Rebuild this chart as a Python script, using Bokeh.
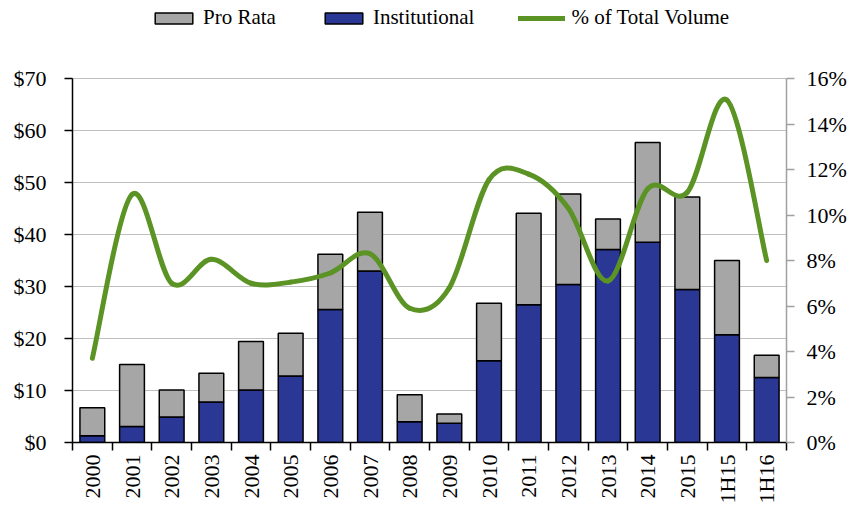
import math
from bokeh.plotting import figure
from bokeh.models import (Range1d, LinearAxis, FixedTicker, NumeralTickFormatter,
                          PrintfTickFormatter, Legend, LegendItem, ColumnDataSource)
from bokeh.embed import file_html
from bokeh.resources import INLINE

categories = ["2000", "2001", "2002", "2003", "2004", "2005", "2006", "2007", "2008",
              "2009", "2010", "2011", "2012", "2013", "2014", "2015", "1H15", "1H16"]
institutional = [1.3, 3.1, 4.9, 7.8, 10.1, 12.8, 25.6, 33.0, 4.0,
                 3.7, 15.7, 26.5, 30.4, 37.1, 38.5, 29.4, 20.7, 12.5]
pro_rata = [5.4, 11.9, 5.2, 5.5, 9.3, 8.2, 10.6, 11.3, 5.2,
            1.8, 11.1, 17.6, 17.4, 5.9, 19.2, 17.8, 14.3, 4.3]
pct_total_volume = [3.7, 10.9, 7.0, 8.05, 7.0, 7.05, 7.45, 8.3, 5.9,
                    6.8, 11.55, 11.8, 10.3, 7.1, 11.15, 11.0, 15.05, 8.0]
usd_ticks = [0, 10, 20, 30, 40, 50, 60, 70]
pct_ticks = [0, 2, 4, 6, 8, 10, 12, 14, 16]

FONT = "Liberation Serif"
NAVY = "#2A3795"
GRAY = "#A6A6A6"
GREEN = "#5B9324"

# frame extends above the $70 line to host the legend; axes are bounded to the data scale
FRAME_TOP_FACTOR = 442.0 / 364.0

xs = list(range(len(categories)))
source = ColumnDataSource(dict(x=xs, institutional=institutional, pro_rata=pro_rata))

p = figure(width=852, height=506, output_backend="svg", toolbar_location=None,
           x_range=Range1d(-0.5, len(categories) - 0.5),
           y_range=Range1d(0, usd_ticks[-1] * FRAME_TOP_FACTOR),
           min_border_left=72, min_border_right=66, min_border_top=0, min_border_bottom=64)
p.outline_line_color = None
p.background_fill_color = "white"
p.xgrid.visible = False
p.ygrid.grid_line_color = "#808080"
p.ygrid.grid_line_dash = "1 1"
p.ygrid.grid_line_width = 1

p.extra_y_ranges = {"pct": Range1d(0, pct_ticks[-1] * FRAME_TOP_FACTOR)}

bars = p.vbar_stack(["institutional", "pro_rata"], x="x", width=0.625, source=source,
                    color=[NAVY, GRAY], line_color="black", line_width=1.5)

# smoothed line (Catmull-Rom style Bezier segments through the data points)
n = len(xs)
x0, y0, x1, y1, cx0, cy0, cx1, cy1 = [], [], [], [], [], [], [], []
for i in range(n - 1):
    pm = (xs[max(i - 1, 0)], pct_total_volume[max(i - 1, 0)])
    pa = (xs[i], pct_total_volume[i])
    pb = (xs[i + 1], pct_total_volume[i + 1])
    pn = (xs[min(i + 2, n - 1)], pct_total_volume[min(i + 2, n - 1)])
    x0.append(pa[0]); y0.append(pa[1]); x1.append(pb[0]); y1.append(pb[1])
    cx0.append(pa[0] + (pb[0] - pm[0]) / 6.0); cy0.append(pa[1] + (pb[1] - pm[1]) / 6.0)
    cx1.append(pb[0] - (pn[0] - pa[0]) / 6.0); cy1.append(pb[1] - (pn[1] - pa[1]) / 6.0)
line = p.bezier(x0=x0, y0=y0, x1=x1, y1=y1, cx0=cx0, cy0=cy0, cx1=cx1, cy1=cy1,
                line_color=GREEN, line_width=5, line_cap="round", y_range_name="pct")

# x axis
xa = p.xaxis[0]
xa.ticker = FixedTicker(ticks=xs, minor_ticks=[i - 0.5 for i in range(len(categories) + 1)])
xa.major_label_overrides = {i: c for i, c in enumerate(categories)}
xa.major_label_orientation = math.pi / 2
xa.major_tick_line_color = None
xa.major_tick_out = 8
xa.major_tick_in = 0
xa.minor_tick_line_color = "black"
xa.minor_tick_line_width = 1.5
xa.minor_tick_out = 8
xa.minor_tick_in = 0
xa.axis_line_color = "black"
xa.axis_line_width = 1.5
xa.major_label_standoff = 4
xa.major_label_text_font = FONT
xa.major_label_text_font_size = "22px"
xa.major_label_text_color = "black"

# left axis
ya = p.yaxis[0]
ya.ticker = FixedTicker(ticks=usd_ticks)
ya.bounds = (usd_ticks[0], usd_ticks[-1])
ya.formatter = NumeralTickFormatter(format="$0")
ya.minor_tick_line_color = None
ya.major_tick_out = 8
ya.major_tick_in = 0
ya.major_tick_line_width = 1.5
ya.axis_line_width = 1.5
ya.major_label_standoff = 18
ya.major_label_text_font = FONT
ya.major_label_text_font_size = "22px"
ya.major_label_text_color = "black"

# right axis
ra = LinearAxis(y_range_name="pct", ticker=FixedTicker(ticks=pct_ticks),
                bounds=(pct_ticks[0], pct_ticks[-1]),
                formatter=PrintfTickFormatter(format="%d%%"))
ra.axis_line_color = "#a0a0a0"
ra.axis_line_width = 1.5
ra.major_tick_line_color = "#a0a0a0"
ra.major_tick_line_width = 1.5
ra.major_tick_out = 8
ra.major_tick_in = 0
ra.minor_tick_line_color = None
ra.major_label_standoff = 12
ra.major_label_text_font = FONT
ra.major_label_text_font_size = "22px"
ra.major_label_text_color = "black"
p.add_layout(ra, "right")

legend = Legend(items=[LegendItem(label="Pro Rata", renderers=[bars[1]]),
                       LegendItem(label="Institutional", renderers=[bars[0]]),
                       LegendItem(label="% of Total Volume", renderers=[line])],
                orientation="horizontal", location=(78, 412),
                glyph_width=47, glyph_height=14, label_standoff=6, spacing=44,
                padding=2, margin=0, border_line_color=None, background_fill_alpha=0,
                label_text_font=FONT, label_text_font_size="21px", label_text_color="black")
p.add_layout(legend, "center")

open("out.html", "w").write(file_html(p, INLINE))
